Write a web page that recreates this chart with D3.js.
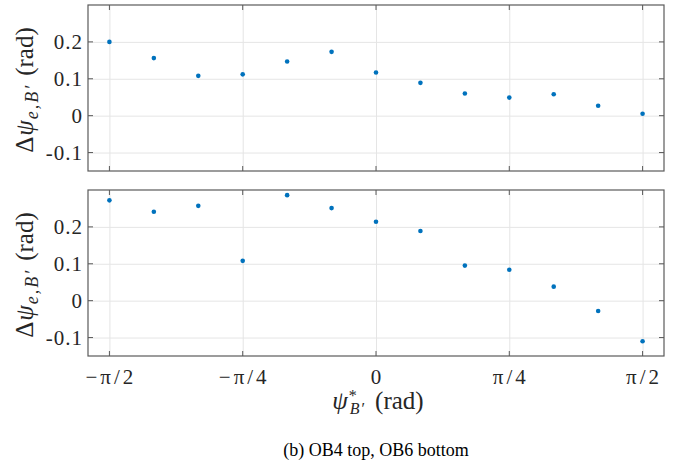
<!DOCTYPE html>
<html>
<meta charset="utf-8">
<style>
  body { margin: 0; background: #fff; }
  svg { width: 688px; height: 464px; display: block; }
  text { font-family: "Liberation Serif", "Times New Roman", serif; fill: #262626; }
  .grid line { stroke: #e5e5e5; stroke-width: 1; }
  .grid path { display: none; }
</style>
<body>
  <svg></svg>
</body>
<script src="https://d3js.org/d3.v7.min.js"></script>
<script>

  // reference heading angles (rad), -pi/2 .. pi/2 in steps of pi/12
  var psiStar = [-Math.PI/2, -5*Math.PI/12, -Math.PI/3, -Math.PI/4, -Math.PI/6, -Math.PI/12, 0,
                 Math.PI/12, Math.PI/6, Math.PI/4, Math.PI/3, 5*Math.PI/12, Math.PI/2];
  var errOB4 = [0.200, 0.156, 0.108, 0.112, 0.147, 0.173, 0.117, 0.089, 0.060, 0.049, 0.058, 0.027, 0.005];
  var errOB6 = [0.272, 0.241, 0.257, 0.108, 0.286, 0.251, 0.214, 0.189, 0.095, 0.084, 0.038, -0.028, -0.110];

  var xTicks = [-Math.PI/2, -Math.PI/4, 0, Math.PI/4, Math.PI/2];
  var xTickLabels = ["\u2212\u03c0/2", "\u2212\u03c0/4", "0", "\u03c0/4", "\u03c0/2"];
  var yTicks = [-0.1, 0, 0.1, 0.2];
  var yTickLabels = ["-0.1", "0", "0.1", "0.2"];

  var left = 88, right = 664;
  var panels = [
    {top: 5, bottom: 171, values: errOB4, xLabels: false},
    {top: 190, bottom: 356, values: errOB6, xLabels: true}
  ];

  var svg = d3.select("svg");

  var xScale = d3.scaleLinear()
    .domain([-1.697, 1.697])
    .range([left, right]);

  panels.forEach(function(p) {
    var yScale = d3.scaleLinear()
      .domain([-0.15, 0.3])
      .range([p.bottom, p.top]);
    var h = p.bottom - p.top, w = right - left;

    var g = svg.append("g");

    // grid
    g.append("g").attr("class", "grid")
      .attr("transform", "translate(0," + p.bottom + ")")
      .call(d3.axisBottom(xScale).tickValues(xTicks).tickSize(-h).tickFormat(""));
    g.append("g").attr("class", "grid")
      .attr("transform", "translate(" + left + ",0)")
      .call(d3.axisLeft(yScale).tickValues(yTicks).tickSize(-w).tickFormat(""));

    // points
    g.selectAll("circle.pt")
      .data(psiStar.map(function(x, i) { return [x, p.values[i]]; }))
      .enter().append("circle")
        .attr("class", "pt")
        .attr("cx", function(d) { return xScale(d[0]); })
        .attr("cy", function(d) { return yScale(d[1]); })
        .attr("r", 2.3)
        .attr("fill", "#0072BD");

    // box
    g.append("rect")
      .attr("x", left).attr("y", p.top)
      .attr("width", w).attr("height", h)
      .attr("fill", "none").attr("stroke", "#5a5a5a").attr("stroke-width", 1.2);

    // inside tick marks
    var tk = 5;
    xTicks.forEach(function(t) {
      var x = xScale(t);
      g.append("line").attr("x1", x).attr("x2", x).attr("y1", p.bottom).attr("y2", p.bottom - tk)
        .attr("stroke", "#5a5a5a");
      g.append("line").attr("x1", x).attr("x2", x).attr("y1", p.top).attr("y2", p.top + tk)
        .attr("stroke", "#5a5a5a");
    });
    yTicks.forEach(function(t) {
      var y = yScale(t);
      g.append("line").attr("x1", left).attr("x2", left + tk).attr("y1", y).attr("y2", y)
        .attr("stroke", "#5a5a5a");
      g.append("line").attr("x1", right).attr("x2", right - tk).attr("y1", y).attr("y2", y)
        .attr("stroke", "#5a5a5a");
    });

    // y tick labels
    g.selectAll("text.ylab")
      .data(yTicks)
      .enter().append("text")
        .attr("class", "ylab")
        .attr("x", left - 5)
        .attr("y", function(d) { return yScale(d); })
        .attr("dy", "0.35em")
        .attr("text-anchor", "end")
        .style("font-size", "21px")
        .style("letter-spacing", "1px")
        .text(function(d, i) { return yTickLabels[i]; });

    // y axis label
    var lab = g.append("text")
      .attr("transform", "translate(33," + (p.top + h / 2 + 2) + ") rotate(-90)")
      .attr("text-anchor", "middle")
      .style("font-size", "25px");
    lab.append("tspan").text("\u0394");
    lab.append("tspan").attr("dx", 1).style("font-style", "italic").text("\u03c8");
    lab.append("tspan").attr("dx", 1).attr("baseline-shift", "-28%").style("font-size", "18px")
      .style("letter-spacing", "2px").style("font-style", "italic").text("e,B\u2032");
    lab.append("tspan").attr("dx", 8).text("(rad)");

    if (p.xLabels) {
      g.selectAll("text.xlab")
        .data(xTicks)
        .enter().append("text")
          .attr("class", "xlab")
          .attr("x", function(d) { return xScale(d) + 1.5; })
          .attr("y", p.bottom + 28)
          .attr("text-anchor", "middle")
          .style("font-size", "21px")
          .style("letter-spacing", "3px")
          .text(function(d, i) { return xTickLabels[i]; });

      // x axis label: psi with stacked * and B' indices
      var xl = g.append("text")
        .attr("x", (left + right) / 2 + 2)
        .attr("y", p.bottom + 53)
        .attr("text-anchor", "middle")
        .style("font-size", "25px");
      xl.append("tspan").style("font-style", "italic").text("\u03c8");
      xl.append("tspan").attr("dx", 1).attr("baseline-shift", "50%").style("font-size", "16px").text("*");
      xl.append("tspan").attr("dx", -7).attr("baseline-shift", "-34%").style("font-size", "16px")
        .style("letter-spacing", "1px").style("font-style", "italic").text("B\u2032");
      xl.append("tspan").attr("dx", 10).text("(rad)");
    }
  });

  // caption
  svg.append("text")
    .attr("x", (left + right) / 2)
    .attr("y", 456)
    .attr("text-anchor", "middle")
    .style("font-size", "18px")
    .style("fill", "#000")
    .text("(b) OB4 top, OB6 bottom");

</script>
</html>
